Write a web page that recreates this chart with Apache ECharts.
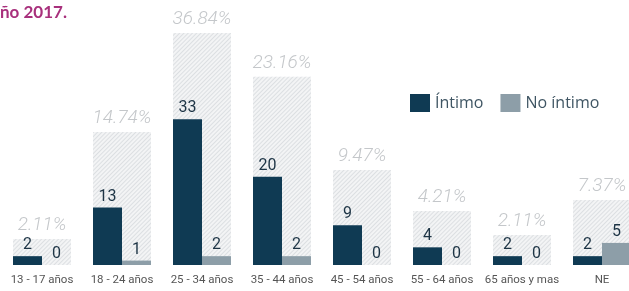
<!DOCTYPE html>
<html>
<head>
<meta charset="utf-8">
<script src="https://cdn.jsdelivr.net/npm/echarts@6/dist/echarts.min.js"></script>
<style>
html,body{margin:0;padding:0;background:#fff;}
#c{width:629px;height:291px;}
</style>
</head>
<body>
<div id="c"></div>
<script>
var categorias = ['13 - 17 años','18 - 24 años','25 - 34 años','35 - 44 años','45 - 54 años','55 - 64 años','65 años y mas','NE'];
var intimo = [2, 13, 33, 20, 9, 4, 2, 2];
var noIntimo = [0, 1, 2, 2, 0, 0, 0, 5];
var porcentajes = ['2.11%','14.74%','36.84%','23.16%','9.47%','4.21%','2.11%','7.37%'];
// hatched background heights as drawn in the picture (same units as the bars)
var fondo = [5.9, 30.1, 52.5, 42.6, 21.5, 12.2, 6.8, 14.7];

var chart = echarts.init(document.getElementById('c'), null, {renderer:'canvas'});
var hatch = {
  symbol: 'rect',
  symbolSize: 1,
  dashArrayX: [1, 0],
  dashArrayY: [1, 2],
  rotation: -Math.PI / 4,
  color: '#dcdfe2'
};
chart.setOption({
  animation: false,
  backgroundColor: '#ffffff',
  grid: {left: 2, width: 640, top: 22, bottom: 26, outerBoundsMode: 'none'},
  legend: {
    left: 405, top: 89,
    itemWidth: 20, itemHeight: 18, itemGap: 17,
    icon: 'rect',
    data: ['Íntimo', 'No íntimo'],
    textStyle: {fontFamily: 'Open Sans', fontSize: 16, color: '#3f5563'}
  },
  graphic: [{
    type: 'text', left: 0, top: 4,
    style: {text: 'ño 2017.', font: 'bold 17px Lato', fill: '#a8307c'}
  }],
  xAxis: [{
    type: 'category', data: categorias,
    axisLine: {show: false}, axisTick: {show: false},
    axisLabel: {fontFamily: 'Roboto', fontSize: 11.5, color: '#555', margin: 9, interval: 0}
  }, {
    type: 'category', data: categorias, show: false
  }],
  yAxis: {type: 'value', min: 0, max: 55, show: false},
  series: [{
    name: 'fondo', type: 'bar', xAxisIndex: 1, data: fondo, barWidth: 58, silent: true,
    itemStyle: {color: '#f3f4f5', decal: hatch},
    label: {
      show: true, position: 'top', distance: 4,
      formatter: function (p) { return porcentajes[p.dataIndex]; },
      fontFamily: 'Roboto', fontStyle: 'italic', fontWeight: 300, fontSize: 19, color: '#c4c7ca'
    }
  }, {
    name: 'Íntimo', type: 'bar', xAxisIndex: 0, data: intimo, barWidth: 29, barGap: 0,
    itemStyle: {color: '#0f3a53'},
    label: {show: true, position: 'top', distance: 3, fontFamily: 'Roboto', fontSize: 16, color: '#1d3445'}
  }, {
    name: 'No íntimo', type: 'bar', xAxisIndex: 0, data: noIntimo, barWidth: 29, barGap: 0,
    itemStyle: {color: '#8d9ea8'},
    label: {show: true, position: 'top', distance: 3, fontFamily: 'Roboto', fontSize: 16, color: '#1d3445'}
  }]
});
</script>
</body>
</html>
